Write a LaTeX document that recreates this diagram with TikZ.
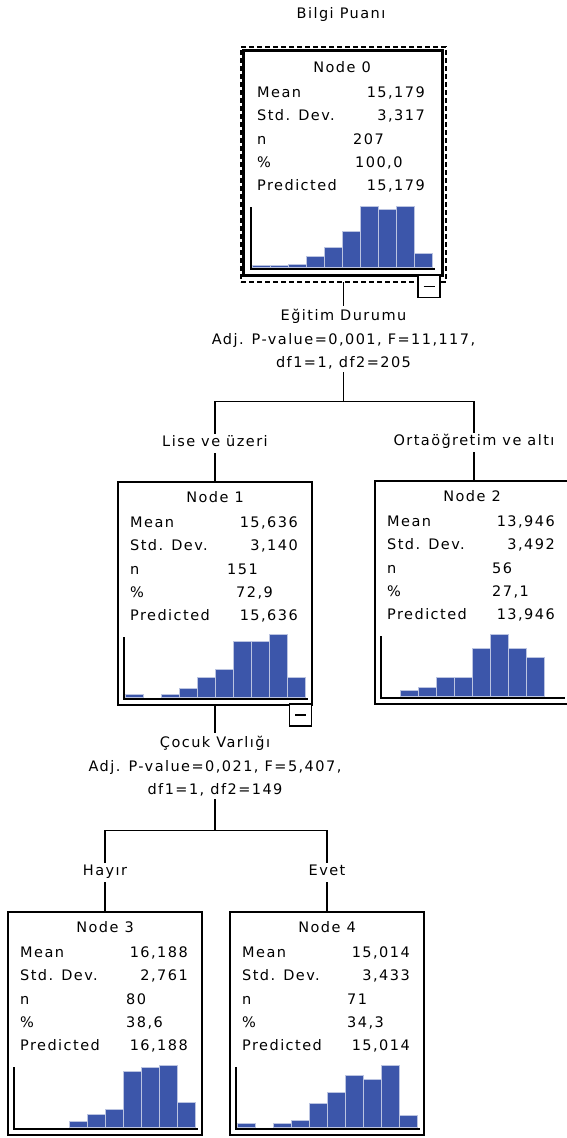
\documentclass[tikz,border=0pt]{standalone}
\usepackage{fontspec}
\setmainfont{DejaVu Sans}[LetterSpace=10]
\usetikzlibrary{positioning}
\usepackage{xcolor}
\definecolor{barblue}{RGB}{60,86,170}

% statistics and histogram inside one tree box, #2 = top left corner
\newcommand{\treestats}[9]{%
  \begin{scope}[shift={#2}]
    \node[stat, anchor=center] (n#1-head) at (97,16) {Node #1};
    \node[stat] (n#1-mean) at (12,41) {Mean};
    \node[stat] (n#1-sd) at (12,64) {Std. Dev.};
    \node[stat] (n#1-n) at (12,88) {n};
    \node[stat] (n#1-pct) at (12,111) {\%};
    \node[stat] (n#1-pred) at (12,134) {Predicted};
    \node[val] (n#1-meanv) at (180,41) {#3};
    \node[val] (n#1-sdv) at (180,64) {#4};
    \node[stat] (n#1-nv) at (#6,88) {#5};
    \node[stat] (n#1-pctv) at (#8,111) {#7};
    \node[val] (n#1-predv) at (180,134) {#3};
    \draw[axis] (6,155) -- (6,217) -- (190,217);
    \foreach \h [count=\i from 0] in {#9} {
      \ifnum\h>0 \filldraw[bar] (7+18*\i,215.5) rectangle ++(18,-\h); \fi
    }
  \end{scope}}

\begin{document}
\begin{tikzpicture}[x=1pt,y=-1pt,
    font=\fontsize{14.5}{17}\selectfont,
    box/.style={draw, line width=1.6pt, minimum width=194, minimum height=223, inner sep=0pt, outer sep=0pt, anchor=north west},
    sel/.style={draw, line width=1.3pt, dash pattern=on 5pt off 3pt, minimum width=205, minimum height=235, inner sep=0pt, outer sep=0pt, anchor=north west},
    toggle/.style={draw, fill=white, line width=1.2pt, minimum width=22, minimum height=22, inner sep=0pt},
    stat/.style={anchor=west, inner sep=0pt, text height=11pt, text depth=3pt},
    val/.style={stat, anchor=east},
    split/.style={align=center, font=\fontsize{14.5}{23.5}\selectfont, inner sep=3pt},
    branch/.style={inner sep=3pt, text height=10pt, text depth=3pt},
    axis/.style={line width=1.3pt},
    bar/.style={fill=barblue, draw=barblue!35, line width=0.8pt},
    link/.style={line width=1.3pt}]

    \useasboundingbox (0,0) rectangle (566,1138);

    \node (title) at (341,14) {Bilgi Puanı};

    % tree boxes
    \node[sel] (sel0) at (241,47) {};
    \node[box, line width=3pt, minimum width=199, minimum height=225] (n0) at (243,50) {};
    \node[box] (n1) at (118,482) {};
    \node[box, minimum width=198] (n2) at (375,481) {};
    \node[box] (n3) at (8,912) {};
    \node[box] (n4) at (230,912) {};

    \treestats{0}{(245,52)}{15,179}{3,317}{207}{108}{100,0}{110}{2,2,3,11,20,36,61,58,61,14}
    \treestats{1}{(118,482)}{15,636}{3,140}{151}{109}{72,9}{118}{3,0,3,9,20,28,56,56,63,20}
    \treestats{2}{(375,481)}{13,946}{3,492}{56}{117}{27,1}{117}{0,6,9,19,19,48,62,48,39,0}
    \treestats{3}{(8,912)}{16,188}{2,761}{80}{118}{38,6}{118}{0,0,0,6,13,18,56,60,62,25}
    \treestats{4}{(230,912)}{15,014}{3,433}{71}{117}{34,3}{117}{4,0,4,7,24,35,52,48,62,12}

    \node[toggle] (m0) at (429,286.5) {\rule{11pt}{1.3pt}};
    \node[toggle] (m1) at (300.5,715) {\rule{11pt}{1.3pt}};

    % splits and branch labels
    \node[split, below=24pt of sel0] (s0) {Eğitim Durumu\\Adj. P-value=0,001, F=11,117,\\df1=1, df2=205};
    \node[branch, above=29pt of n1] (l1) {Lise ve üzeri};
    \node[branch, above=29pt of n2] (l2) {Ortaöğretim ve altı};

    \node[split, below=28pt of n1] (s1) {Çocuk Varlığı\\Adj. P-value=0,021, F=5,407,\\df1=1, df2=149};
    \node[branch, above=30pt of n3] (l3) {Hayır};
    \node[branch, above=30pt of n4] (l4) {Evet};

    \draw[link] (sel0.south) -- (s0.north);
    \draw[link] (s0.south) -- ++(0,29) -| (l1.north);
    \draw[link] (s0.south) -- ++(0,29) -| (l2.north);
    \draw[link] (l1.south) -- (n1.north);
    \draw[link] (l2.south) -- (n2.north);

    \draw[link] (n1.south) -- (s1.north);
    \draw[link] (s1.south) -- ++(0,31) -| (l3.north);
    \draw[link] (s1.south) -- ++(0,31) -| (l4.north);
    \draw[link] (l3.south) -- (n3.north);
    \draw[link] (l4.south) -- (n4.north);

\end{tikzpicture}
\end{document}
